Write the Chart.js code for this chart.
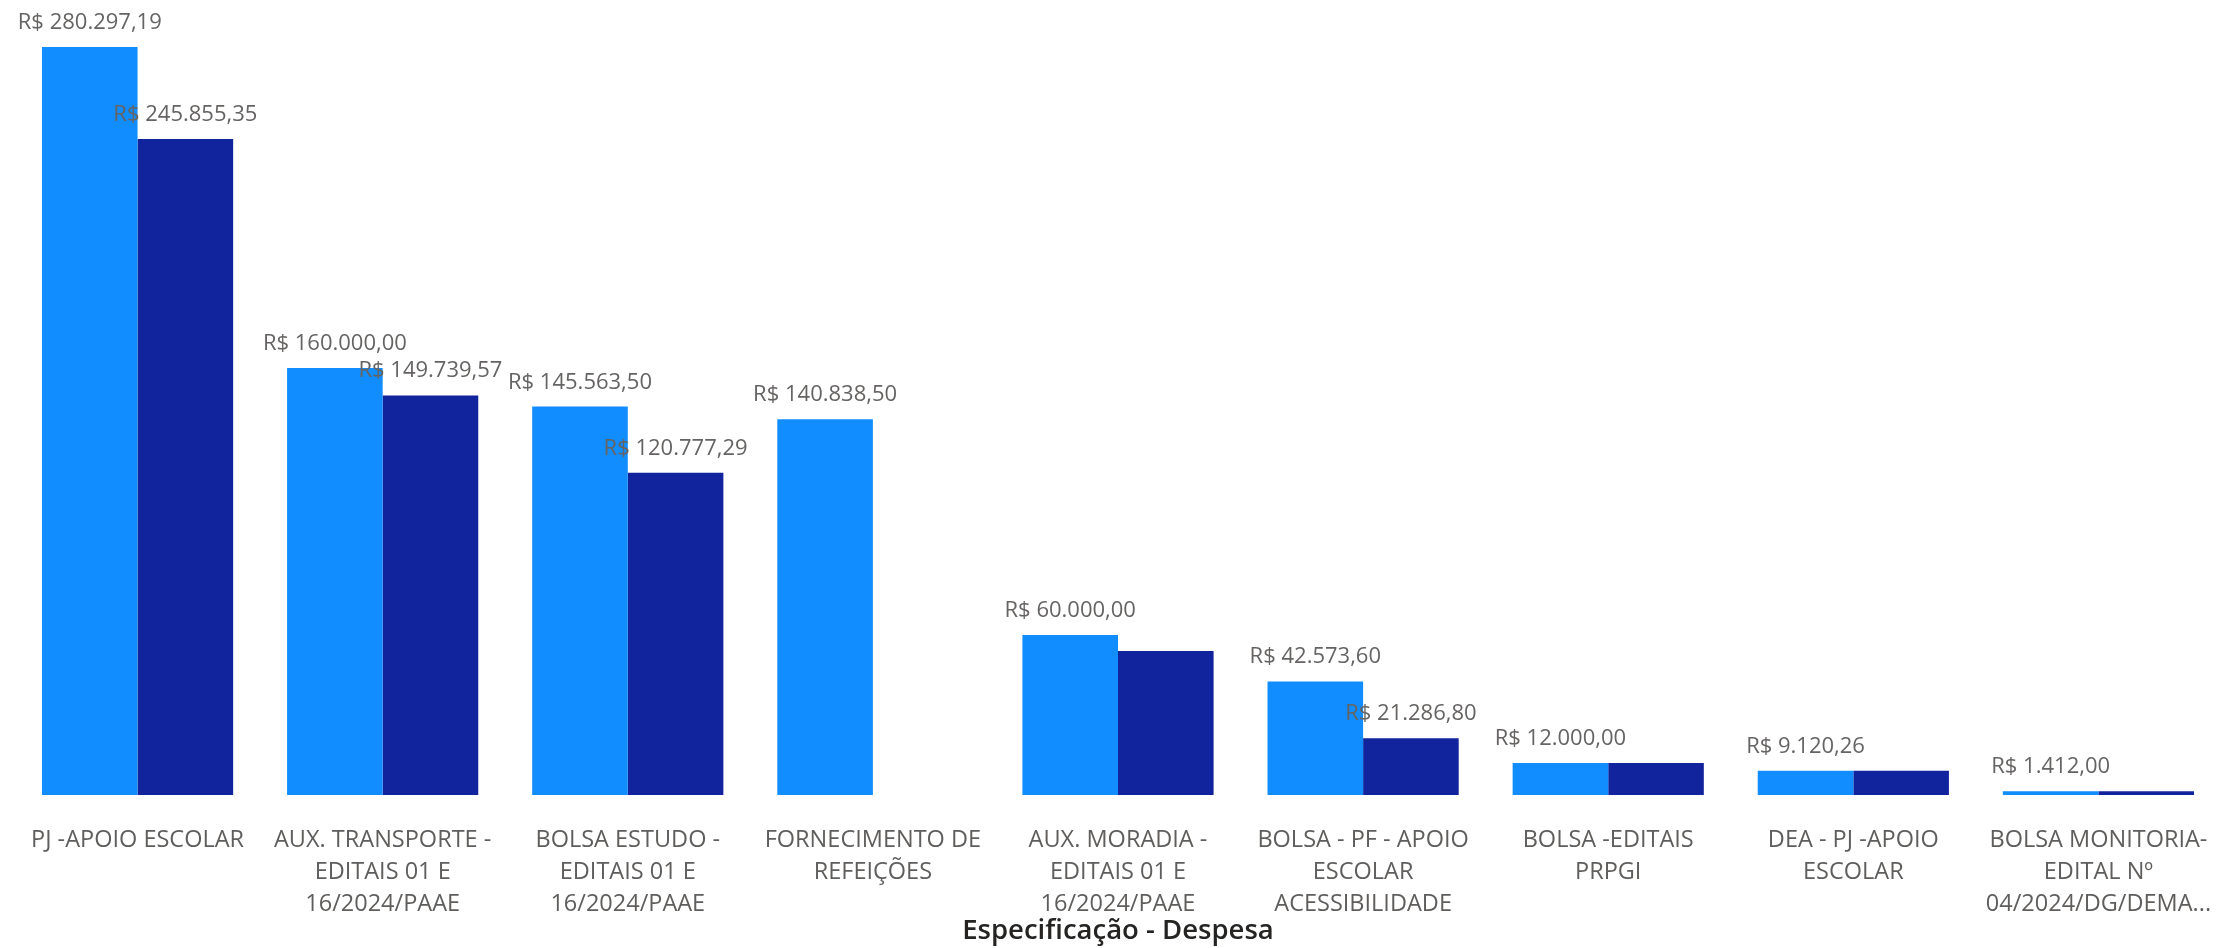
<!DOCTYPE html>
<html>
<head>
<meta charset="utf-8">
<script src="https://cdn.jsdelivr.net/npm/chart.js@4.4.1/dist/chart.umd.min.js"></script>
<style>
  html, body { margin: 0; padding: 0; background: #ffffff; }
  #box { width: 2235px; height: 948px; position: relative; }
</style>
</head>
<body>
<div id="box"><canvas id="grafico"></canvas></div>
<script>
// categorias (ja quebradas em linhas como no original)
var categorias = [
    ["PJ -APOIO ESCOLAR"],
    ["AUX. TRANSPORTE -", "EDITAIS 01 E", "16/2024/PAAE"],
    ["BOLSA ESTUDO -", "EDITAIS 01 E", "16/2024/PAAE"],
    ["FORNECIMENTO DE", "REFEIÇÕES"],
    ["AUX. MORADIA -", "EDITAIS 01 E", "16/2024/PAAE"],
    ["BOLSA - PF - APOIO", "ESCOLAR", "ACESSIBILIDADE"],
    ["BOLSA -EDITAIS", "PRPGI"],
    ["DEA - PJ -APOIO", "ESCOLAR"],
    ["BOLSA MONITORIA-", "EDITAL Nº", "04/2024/DG/DEMA..."]
];

// serie azul claro
var valoresClaro = [280297.19, 160000.00, 145563.50, 140838.50, 60000.00, 42573.60, 12000.00, 9120.26, 1412.00];
// serie azul escuro
var valoresEscuro = [245855.35, 149739.57, 120777.29, null, 53960.00, 21286.80, 12000.00, 9120.26, 1412.00];

var tituloEixo = "Especificação - Despesa";

function formatarReal(v){
    var partes = v.toFixed(2).split(".");
    var inteiro = partes[0].replace(/\B(?=(\d{3})+(?!\d))/g, ".");
    return "R$ " + inteiro + "," + partes[1];
}

// rotulos de dados, escondendo os que se sobrepoem
var rotulos = {
    id: "rotulos",
    afterDatasetsDraw: function(chart){
        var ctx = chart.ctx;
        var caixas = [];
        ctx.save();
        ctx.font = "22px 'Open Sans'";
        ctx.fillStyle = "#666463";
        ctx.textAlign = "center";
        ctx.textBaseline = "alphabetic";
        chart.data.datasets.forEach(function(ds, i){
            var meta = chart.getDatasetMeta(i);
            meta.data.forEach(function(barra, j){
                var v = ds.data[j];
                if (v === null || v === undefined) return;
                var texto = formatarReal(v);
                var w = ctx.measureText(texto).width;
                var y = barra.y - 18;
                var cx = {x1: barra.x - w / 2, x2: barra.x + w / 2, y1: y - 20, y2: y};
                var bate = caixas.some(function(c){
                    return cx.x1 < c.x2 && cx.x2 > c.x1 && cx.y1 < c.y2 && cx.y2 > c.y1;
                });
                if (bate) return;
                caixas.push(cx);
                ctx.fillText(texto, barra.x, y);
            });
        });
        ctx.restore();
    }
};

var grafico = new Chart(document.getElementById("grafico"), {
    type: "bar",
    data: {
        labels: categorias,
        datasets: [
            {
                label: "Claro",
                data: valoresClaro,
                backgroundColor: "#118DFF",
                categoryPercentage: 0.78,
                barPercentage: 1.0
            },
            {
                label: "Escuro",
                data: valoresEscuro,
                backgroundColor: "#12239E",
                categoryPercentage: 0.78,
                barPercentage: 1.0
            }
        ]
    },
    options: {
        responsive: true,
        maintainAspectRatio: false,
        animation: false,
        layout: { padding: { top: 47, left: 15, right: 14, bottom: 0 } },
        plugins: {
            legend: { display: false },
            tooltip: { enabled: false }
        },
        scales: {
            y: {
                display: false,
                min: 0,
                max: Math.max.apply(null, valoresClaro)
            },
            x: {
                grid: { display: false },
                border: { display: false },
                ticks: {
                    autoSkip: false,
                    maxRotation: 0,
                    minRotation: 0,
                    padding: 21,
                    color: "#605E5C",
                    font: { family: "'Open Sans'", size: 23.5, lineHeight: 1.36 }
                },
                title: {
                    display: true,
                    text: tituloEixo,
                    color: "#252423",
                    padding: { top: -26, bottom: 0 },
                    font: { family: "'Open Sans'", size: 27.5, weight: "600", lineHeight: 1.2 }
                }
            }
        }
    },
    plugins: [rotulos]
});
</script>
</body>
</html>
